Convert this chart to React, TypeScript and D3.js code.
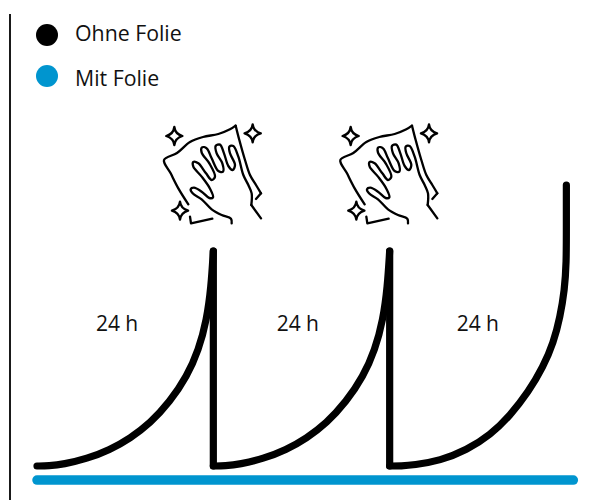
import React from "react";
import * as d3 from "d3";

const legendLabels = ["Ohne Folie", "Mit Folie"];
const legendColors = ["#000000", "#0095cf"];
const cycleLabel = "24 h";
const labelHours = [10.9, 35.5, 60];

const seg1Hours = [0, 1.6, 3.6, 6.8, 9.9, 12.7, 15.4, 18.1, 20.4, 22, 23.1, 23.7, 24];
const seg1Levels = [0, 0.05, 0.6, 2.6, 5.7, 9.9, 15.2, 22.9, 31.8, 41.3, 52, 63.8, 76.5];
const seg2Hours = [24, 25.6, 27.6, 30.8, 33.9, 36.7, 39.4, 42.1, 44.4, 46, 47.1, 47.7, 48];
const seg2Levels = [0, 0.05, 0.6, 2.6, 5.7, 9.9, 15.2, 22.9, 31.8, 41.3, 52, 63.8, 76.5];
const seg3Hours = [48, 49.6, 51.2, 54.9, 58.5, 61.7, 64.4, 66.9, 68.9, 70.3, 71.2, 71.8, 72.05, 72.05, 72.05];
const seg3Levels = [0, 0.02, 0.3, 1.9, 5.7, 11, 18, 26.4, 35.3, 43.9, 53.1, 62.6, 72.2, 85, 100];
const withFoilHours = [0, 73];
const withFoilLevels = [-5, -5];
const wipeHours = [0, 24];

const x = d3.scaleLinear().domain([0, 72]).range([37, 566]);
const y = d3.scaleLinear().domain([0, 100]).range([466, 185]);
const line = d3.line<[number, number]>().x((d) => x(d[0])).y((d) => y(d[1]));
const smooth = d3
  .line<[number, number]>()
  .x((d) => x(d[0]))
  .y((d) => y(d[1]))
  .curve(d3.curveBasis);

const zip = (a: number[], b: number[]) => a.map((v, i) => [v, b[i]] as [number, number]);

const FONT = "'Open Sans', sans-serif";

const iconLine = d3.line().curve(d3.curveCatmullRom.alpha(0.5));

const clothOutline: [number, number][] = [
  [115, 283], [85, 235], [62, 190], [42, 150], [81, 129], [120, 96], [159, 81], [205, 72], [240, 58], [257, 47],
];
const clothRight: [number, number][] = [
  [257, 47], [268, 90], [285, 150], [300, 195], [318, 225], [333, 250],
];
const handOutline: [number, number][] = [
  [245, 340], [243, 326], [215, 315], [185, 298], [155, 268], [128, 250], [122, 238], [132, 233], [155, 245],
  [178, 264], [189, 262], [180, 236], [155, 200], [130, 170], [130, 156], [145, 160], [168, 190], [185, 210],
  [195, 200], [178, 160], [155, 128], [156, 112], [170, 115], [185, 145], [205, 183], [219, 185], [217, 160],
  [200, 130], [197, 108], [210, 104], [222, 130], [235, 168], [248, 180], [255, 165], [240, 130], [238, 110],
  [250, 108], [265, 140], [280, 195], [295, 225], [305, 250], [304, 285],
];

const star = (cx: number, cy: number, r: number) => {
  const k = r * 0.18;
  return `M${cx},${cy - r}Q${cx + k * 0.5},${cy - k * 1.3} ${cx + r * 0.9},${cy}Q${cx + k * 0.5},${cy + k * 1.3} ${cx},${cy + r}Q${cx - k * 0.5},${cy + k * 1.3} ${cx - r * 0.9},${cy}Q${cx - k * 0.5},${cy - k * 1.3} ${cx},${cy - r}Z`;
};

function WipeIcon({ dx }: { dx: number }) {
  const s = {
    fill: "none",
    stroke: "#000",
    strokeWidth: 7,
    strokeLinecap: "round" as const,
    strokeLinejoin: "round" as const,
  };
  return (
    <g transform={`translate(${150 + dx},110) scale(${1 / 3})`}>
      <path {...s} d={iconLine(clothOutline) ?? ""} />
      <path {...s} d={iconLine(clothRight) ?? ""} />
      <path {...s} d="M333,250 L318,267" />
      <path {...s} d={iconLine(handOutline) ?? ""} />
      <path {...s} d="M304,285 L333,325" />
      <path {...s} d="M120,320 L123,340 L187,326" />
      <path {...s} d={star(73, 78, 27)} />
      <path {...s} d={star(308, 70, 27)} />
      <path {...s} d={star(90, 302, 27)} />
    </g>
  );
}

export default function App() {
  const segments = [
    zip(seg1Hours, seg1Levels),
    zip(seg2Hours, seg2Levels),
    zip(seg3Hours, seg3Levels),
  ];
  return (
    <svg
      width={606}
      height={500}
      viewBox="0 0 606 500"
      style={{ position: "absolute", left: 0, top: 0, background: "#fff" }}
    >
      <line x1={10} x2={10} y1={14} y2={500} stroke="#000" strokeWidth={1.8} />

      {legendLabels.map((t, i) => (
        <g key={t}>
          <circle cx={47} cy={35 + i * 41} r={11} fill={legendColors[i]} />
          <text x={75} y={41 + i * 45} fontFamily={FONT} fontSize={21.3} fill="#111">
            {t}
          </text>
        </g>
      ))}

      {wipeHours.map((h) => (
        <WipeIcon key={h} dx={x(h) - x(0)} />
      ))}

      {labelHours.map((h) => (
        <text key={h} x={x(h)} y={331} textAnchor="middle" fontFamily={FONT} fontSize={21} fill="#111">
          {cycleLabel}
        </text>
      ))}

      <path
        d={line(zip(withFoilHours, withFoilLevels)) ?? ""}
        fill="none"
        stroke={legendColors[1]}
        strokeWidth={9.5}
        strokeLinecap="round"
      />

      {segments.map((seg, i) => (
        <path
          key={i}
          d={smooth(seg) ?? ""}
          fill="none"
          stroke={legendColors[0]}
          strokeWidth={7.2}
          strokeLinecap="round"
          strokeLinejoin="round"
        />
      ))}
      {segments.slice(0, 2).map((seg, i) => {
        const last = seg[seg.length - 1];
        return (
          <path
            key={i}
            d={line([last, [last[0], 0]]) ?? ""}
            fill="none"
            stroke={legendColors[0]}
            strokeWidth={7.2}
            strokeLinecap="round"
          />
        );
      })}
    </svg>
  );
}
